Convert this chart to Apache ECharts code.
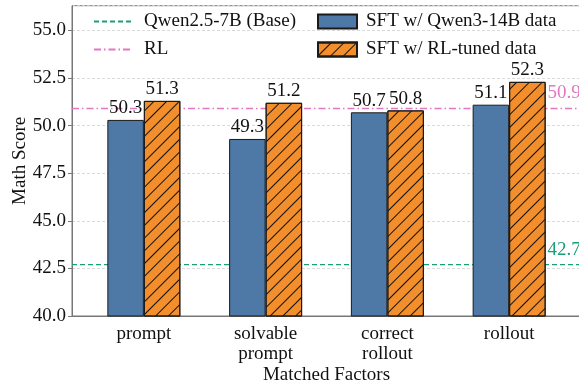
<!DOCTYPE html>
<html><head><meta charset="utf-8">
<script src="https://cdn.jsdelivr.net/npm/echarts@6/dist/echarts.min.js"></script>
<style>html,body{margin:0;padding:0;background:#fff}#c{width:579px;height:383px}</style>
</head><body><div id="c"></div>
<script>
const categories = ['prompt', 'solvable\nprompt', 'correct\nrollout', 'rollout'];
const sftQwen3 = [50.3, 49.3, 50.7, 51.1];
const sftRL = [51.3, 51.2, 50.8, 52.3];
const baseScore = 42.7;
const rlScore = 50.9;
const yMin = 40, yMax = 56.3, yStep = 2.5;
const names = ['Qwen2.5-7B (Base)', 'RL', 'SFT w/ Qwen3-14B data', 'SFT w/ RL-tuned data'];

const X_MIN = -0.59, X_MAX = 3.59, LABEL_X = 3.32;
const FONT = 'Liberation Serif';
const FS = 19;
const teal = '#1b9e77', pink = '#e377c2', blue = '#4e79a7', orange = '#f28e2b';

const chart = echarts.init(document.getElementById('c'), null, {renderer: 'canvas'});
const idx = categories.map((_, i) => i);

function refLine(name, val, color, type) {
  return {
    name, type: 'line', symbol: 'none', silent: true,
    data: [[X_MIN, val], [X_MAX, val]],
    lineStyle: {color, width: 1.3, type},
    itemStyle: {color},
    z: 2,
    markPoint: {
      symbol: 'rect', symbolSize: 1, silent: true,
      itemStyle: {color: 'rgba(0,0,0,0)'},
      data: [{coord: [LABEL_X, val], value: val}],
      label: {show: true, position: [0, -5], align: 'left', verticalAlign: 'bottom',
        formatter: p => p.value.toFixed(1), color, fontFamily: FONT, fontSize: FS}
    }
  };
}

const barLabel = {show: true, position: 'top', distance: 2, color: '#111', fontFamily: FONT, fontSize: FS,
  formatter: p => p.value[1].toFixed(1)};
const hidden = {color: 'rgba(0,0,0,0)', borderWidth: 0};
const legendText = {fontFamily: FONT, fontSize: FS, color: '#111', padding: [0, 0, 0, 6]};

chart.setOption({
  animation: false,
  textStyle: {fontFamily: FONT},
  grid: {left: 72, top: 5.7, width: 509, height: 310.3, show: true, borderColor: '#777', borderWidth: 1,
    outerBoundsMode: 'none', containLabel: false},
  legend: [
    {data: [{name: names[0], itemStyle: hidden}, {name: names[1], itemStyle: hidden}],
     orient: 'vertical', left: 93, top: 12, padding: 0, itemWidth: 39, itemHeight: 14,
     itemGap: 9, textStyle: legendText},
    {data: [{name: names[2], icon: 'rect'}, {name: names[3], icon: 'rect'}],
     orient: 'vertical', left: 317, top: 12, padding: 0, itemWidth: 39, itemHeight: 14,
     itemGap: 9, textStyle: Object.assign({}, legendText, {padding: [0, 0, 0, 4]})}
  ],
  xAxis: {
    type: 'value', min: X_MIN, max: X_MAX,
    name: 'Matched Factors', nameLocation: 'middle', nameGap: 50, nameMoveOverlap: false,
    nameTextStyle: {fontFamily: FONT, fontSize: FS, color: '#111'},
    axisLine: {show: true, onZero: false, lineStyle: {color: '#777'}},
    axisTick: {show: false},
    splitLine: {show: false},
    axisLabel: {customValues: idx, formatter: v => categories[Math.round(v)], fontFamily: FONT,
      fontSize: FS, color: '#111', lineHeight: 20, margin: 8}
  },
  yAxis: {
    type: 'value', min: yMin, max: yMax, interval: yStep,
    name: 'Math Score', nameLocation: 'middle', nameGap: 42, nameMoveOverlap: false,
    nameTextStyle: {fontFamily: FONT, fontSize: FS, color: '#111'},
    axisLine: {show: true, onZero: false, lineStyle: {color: '#777'}},
    axisTick: {show: true, length: 4, lineStyle: {color: '#777'}},
    axisLabel: {formatter: v => v.toFixed(1), fontFamily: FONT, fontSize: FS, color: '#111', margin: 6,
      showMaxLabel: false},
    splitLine: {show: true, lineStyle: {color: '#d0d0d0', type: [3, 2], width: 0.8}}
  },
  series: [
    refLine(names[0], baseScore, teal, [5, 3]),
    refLine(names[1], rlScore, pink, [7, 3, 1.5, 3]),
    {
      name: names[2], type: 'bar', barWidth: 36.5, barGap: '0%',
      data: idx.map(i => [i, sftQwen3[i]]),
      itemStyle: {color: blue, borderColor: '#1a1a1a', borderWidth: 1},
      label: barLabel, z: 3
    },
    {
      name: names[3], type: 'bar', barWidth: 36.5, barGap: '0%',
      data: idx.map(i => [i, sftRL[i]]),
      itemStyle: {color: orange, borderColor: '#1a1a1a', borderWidth: 1,
        decal: {symbol: 'rect', symbolSize: 1, dashArrayX: [1, 0], dashArrayY: [1, 8],
          rotation: -Math.PI / 4, color: '#111'}},
      label: barLabel, z: 3
    }
  ]
});
</script></body></html>
